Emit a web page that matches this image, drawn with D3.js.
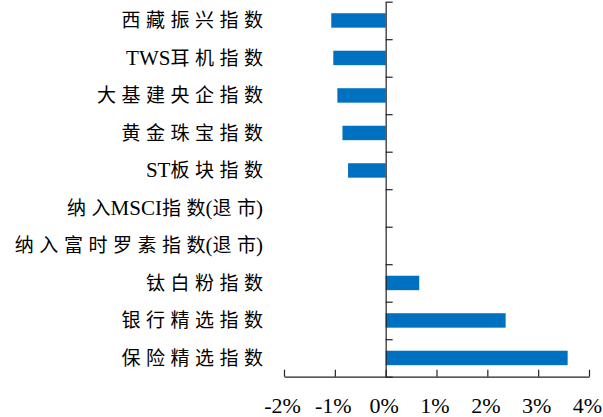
<!DOCTYPE html>
<html>
<head>
<meta charset="utf-8">
<script src="https://cdn.jsdelivr.net/npm/d3@7/dist/d3.min.js"></script>
<style>
  html, body { margin: 0; padding: 0; background: #fff; }
  svg { display: block; }
  .cat { font-family: "Liberation Serif", "Noto Sans CJK SC", serif; font-size: 19px; fill: #000; }
  .cat .latin { font-size: 21px; }
  .xaxis text { font-family: "Liberation Serif", serif; font-size: 22px; fill: #000; }
</style>
</head>
<body>
<svg id="chart" width="603" height="417"></svg>
<script>
// Index names, top to bottom
const categories = [
  "西藏振兴指数",
  "TWS耳机指数",
  "大基建央企指数",
  "黄金珠宝指数",
  "ST板块指数",
  "纳入MSCI指数(退市)",
  "纳入富时罗素指数(退市)",
  "钛白粉指数",
  "银行精选指数",
  "保险精选指数"
];
// Change, in percent
const values = [-1.07, -1.03, -0.95, -0.85, -0.74, 0, 0, 0.66, 2.36, 3.58];
// Axis ticks, in percent
const xTicks = [-2, -1, 0, 1, 2, 3, 4];

const svg = d3.select("#chart");
const plotLeft = 284, plotRight = 589, plotTop = 1.7, plotBottom = 376.7;

const x = d3.scaleLinear().domain([-2, 4]).range([plotLeft, plotRight]);
const y = d3.scaleBand().domain(categories).range([plotTop, plotBottom]).padding(0);
const barH = y.bandwidth() * 0.385;

// Bars
svg.append("g")
  .selectAll("rect")
  .data(categories.map((c, i) => ({ c, v: values[i] })).filter(d => d.v !== 0))
  .join("rect")
  .attr("x", d => x(Math.min(0, d.v)))
  .attr("width", d => Math.abs(x(d.v) - x(0)))
  .attr("y", d => y(d.c) + (y.bandwidth() - barH) / 2)
  .attr("height", barH)
  .attr("fill", "#0070c0");

// Category labels: spacing only between two CJK characters, Latin set tight
const isLatin = ch => /[A-Za-z()]/.test(ch);
svg.append("g")
  .selectAll("text")
  .data(categories)
  .join("text")
  .attr("class", "cat")
  .attr("x", 263)
  .attr("y", d => y(d) + y.bandwidth() / 2)
  .attr("dy", "0.35em")
  .attr("text-anchor", "end")
  .each(function (d) {
    const chars = Array.from(d);
    d3.select(this).selectAll("tspan")
      .data(chars.map((ch, i) => ({ ch, next: chars[i + 1] })))
      .join("tspan")
      .attr("class", c => isLatin(c.ch) ? "latin" : null)
      .style("letter-spacing", c => (!isLatin(c.ch) && c.next && !isLatin(c.next)) ? "5.5px" : "0px")
      .text(c => c.ch);
  });

// Vertical axis at zero, ticks on band boundaries
const yIdx = d3.scaleLinear().domain([0, categories.length]).range([plotTop, plotBottom]);
const yAxis = svg.append("g")
  .attr("transform", `translate(${x(0)},0)`)
  .call(d3.axisRight(yIdx).tickValues(d3.range(0, categories.length + 1)).tickSize(7).tickSizeOuter(0).tickFormat(""));
yAxis.selectAll("path, line").attr("stroke", "#222").attr("stroke-width", 1.2);

// Horizontal axis
const xAxis = svg.append("g")
  .attr("class", "xaxis")
  .attr("transform", `translate(0,${plotBottom})`)
  .call(d3.axisBottom(x).tickValues(xTicks).tickSize(-7).tickSizeOuter(0).tickPadding(21).tickFormat(d => d + "%"));
xAxis.selectAll("path, line").attr("stroke", "#222").attr("stroke-width", 1.2);
xAxis.attr("font-family", null).attr("font-size", null);
xAxis.selectAll("text").attr("fill", "#000").attr("dx", -2);
</script>
</body>
</html>
